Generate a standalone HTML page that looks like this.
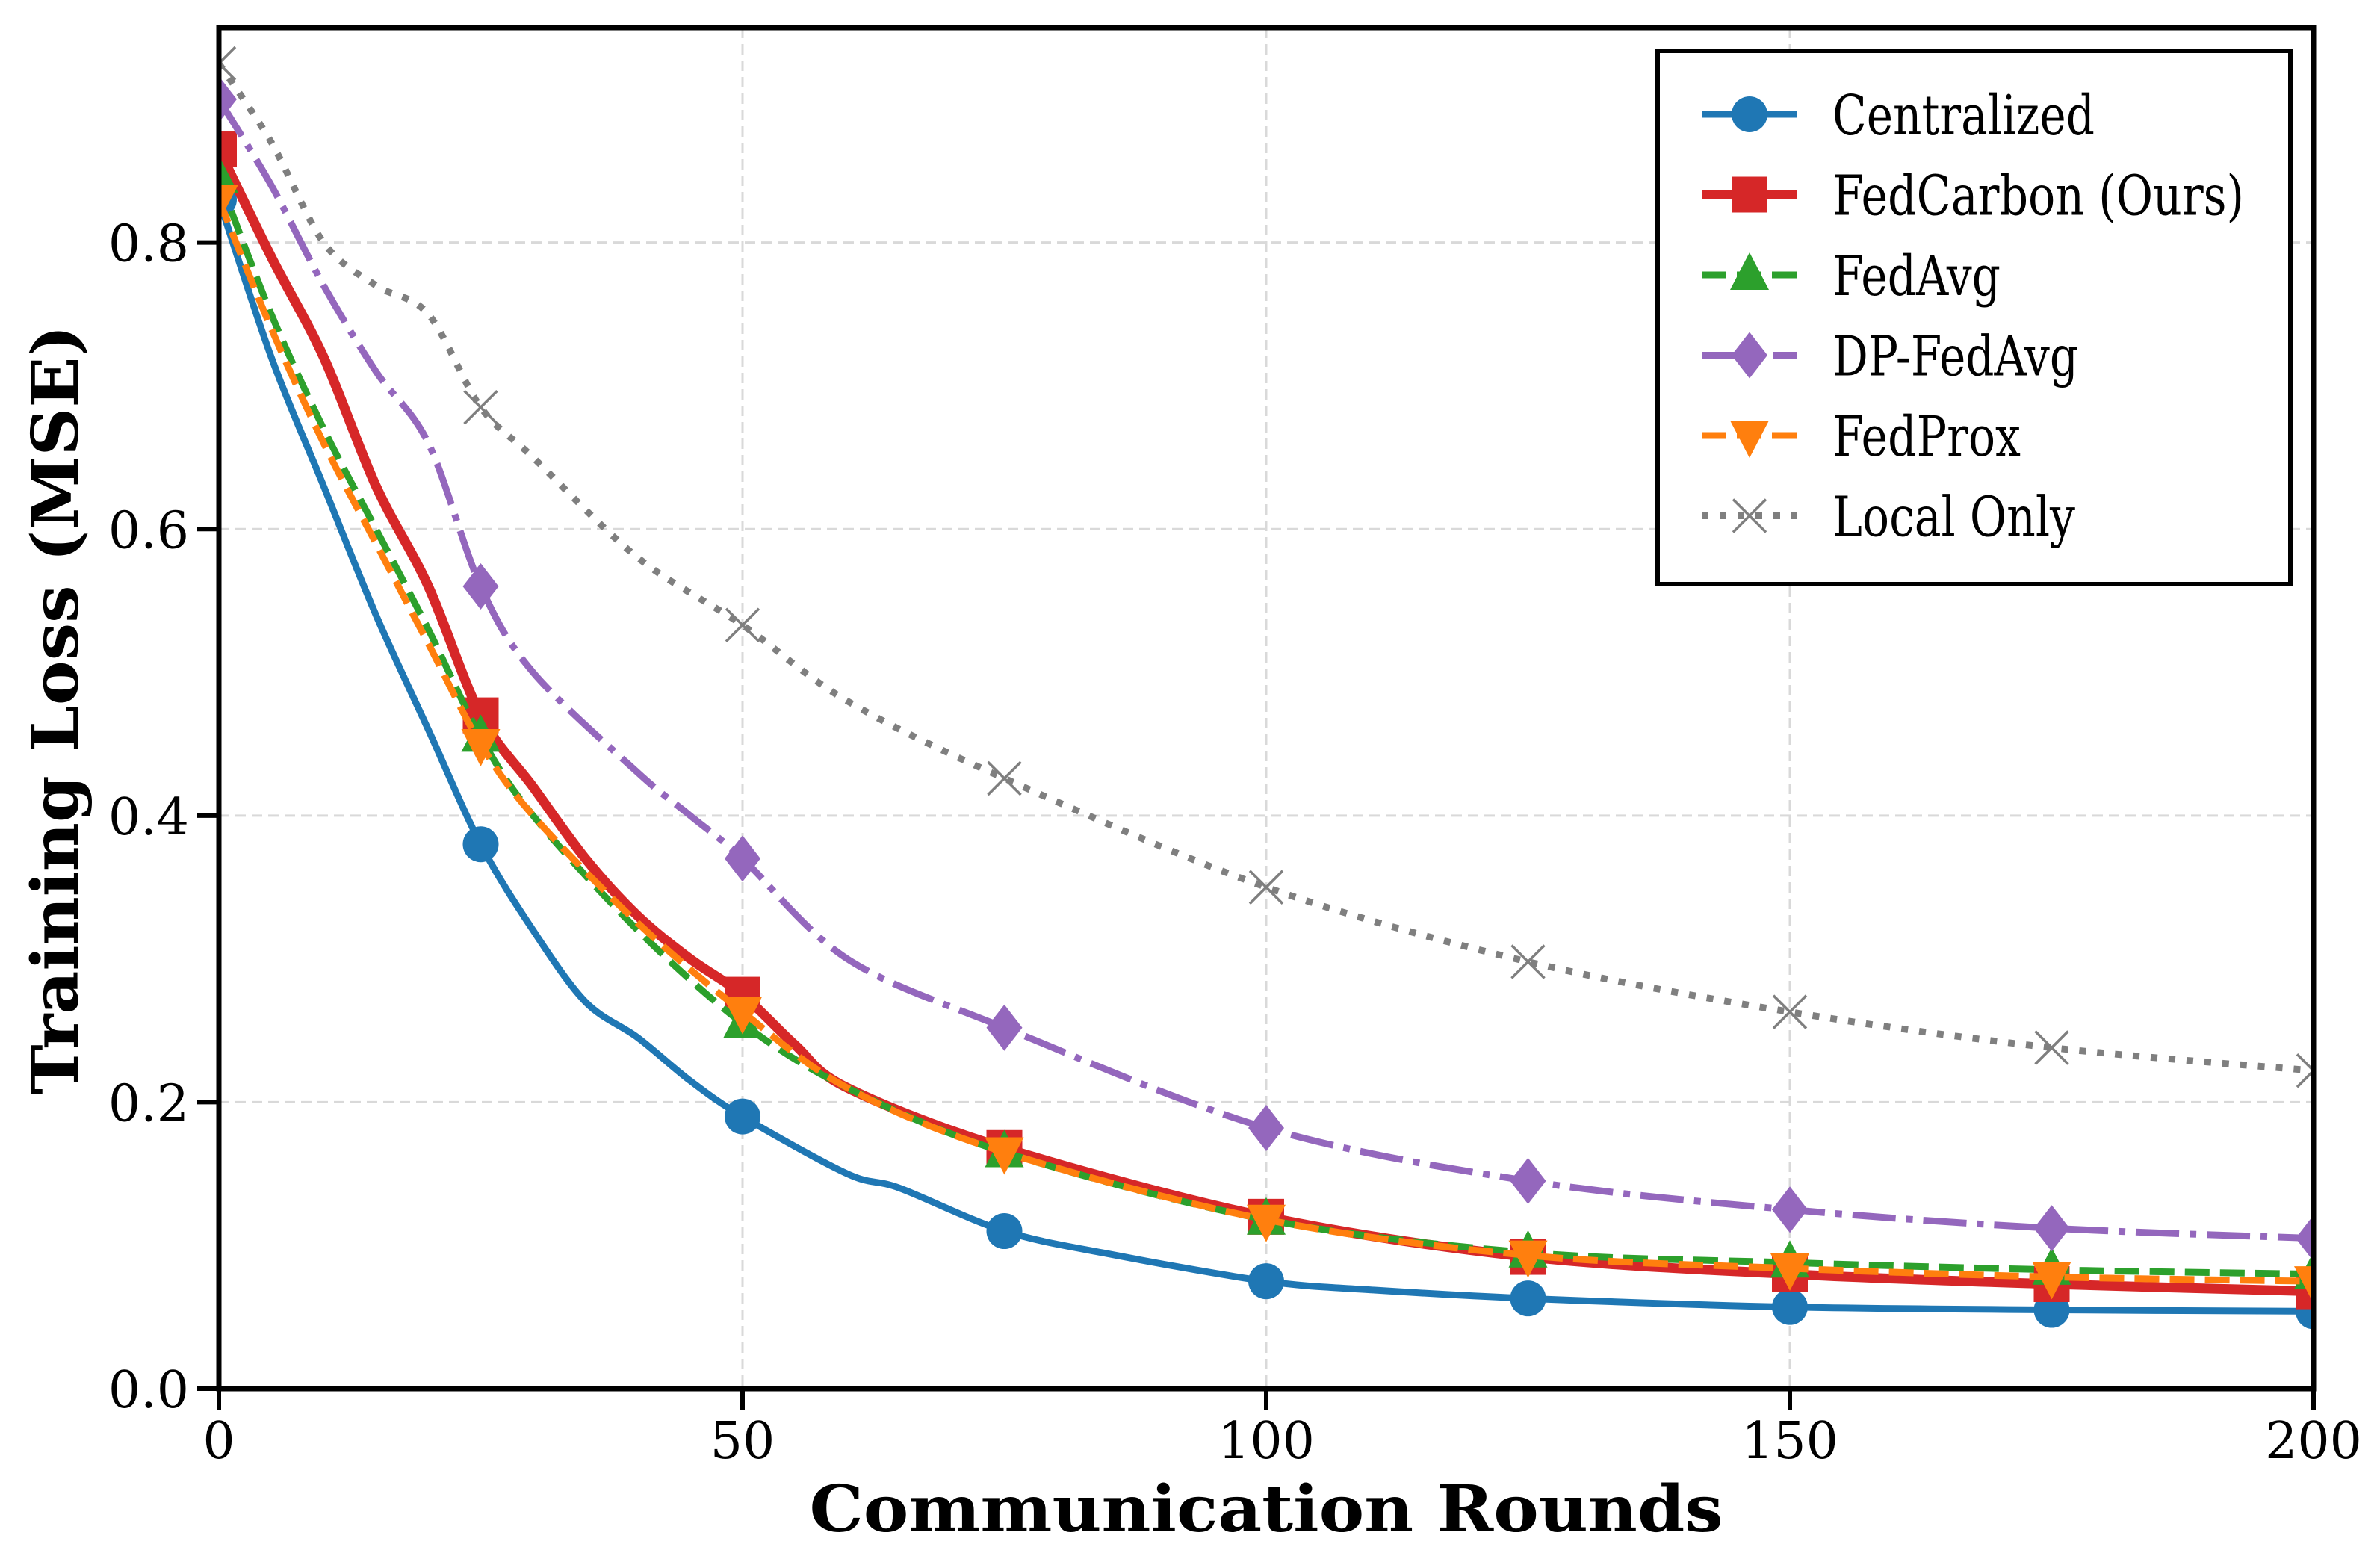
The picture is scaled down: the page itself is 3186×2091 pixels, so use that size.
<!DOCTYPE html>
<html><head><meta charset="utf-8"><style>
html,body{margin:0;padding:0;background:#fff}
svg{display:block}
text{font-family:"DejaVu Serif","Liberation Serif",serif;fill:#000}
</style></head><body>
<svg id="chart" width="3186" height="2091" viewBox="0 0 3186 2091" xmlns="http://www.w3.org/2000/svg">
<defs><clipPath id="plotclip"><rect x="293" y="37" width="2804" height="1822"/></clipPath></defs>
<g id="grid"></g>
<g id="series" clip-path="url(#plotclip)"></g>
<rect x="293" y="37" width="2804" height="1822" fill="none" stroke="#000" stroke-width="7"/>
<g id="ticks"></g>
<text x="1695" y="2050" font-size="86" font-weight="bold" text-anchor="middle" textLength="1223" lengthAdjust="spacingAndGlyphs">Communication Rounds</text>
<text transform="translate(104,950) rotate(-90)" x="0" y="0" font-size="86" font-weight="bold" text-anchor="middle" textLength="1030" lengthAdjust="spacingAndGlyphs">Training Loss (MSE)</text>
<g id="legend">
<rect x="2219" y="68" width="847" height="714" fill="#fff" stroke="#000" stroke-width="6"/>
</g>
</svg>
<script>
const xTicks=[0,50,100,150,200];
const yTicks=[0,0.2,0.4,0.6,0.8];
const yTickLabels=["0.0","0.2","0.4","0.6","0.8"];
const centralizedX=[0,5,10,15,20,25,30,35,40,45,50,60,65,75,85,100,110,125,150,175,200];
const centralizedY=[0.83,0.72,0.63,0.54,0.46,0.38,0.32,0.27,0.245,0.215,0.19,0.15,0.14,0.11,0.094,0.075,0.069,0.063,0.057,0.055,0.054];
const fedcarbonX=[0,5,10,15,20,25,30,35,40,45,50,55,60,75,100,125,150,175,200];
const fedcarbonY=[0.865,0.79,0.72,0.63,0.56,0.47,0.42,0.37,0.33,0.30,0.275,0.24,0.21,0.168,0.12,0.092,0.08,0.073,0.068];
const fedavgX=[0,5,10,15,20,25,30,40,50,60,75,100,125,150,175,200];
const fedavgY=[0.845,0.75,0.67,0.6,0.53,0.455,0.40,0.32,0.255,0.21,0.165,0.118,0.095,0.088,0.083,0.08];
const dpX=[0,5,10,15,20,25,30,40,45,50,60,75,100,125,150,175,200];
const dpY=[0.90,0.84,0.77,0.71,0.66,0.56,0.50,0.43,0.40,0.37,0.30,0.252,0.182,0.145,0.125,0.112,0.105];
const fedproxX=[0,5,10,15,20,25,30,40,50,60,75,100,125,150,175,200];
const fedproxY=[0.83,0.74,0.66,0.59,0.52,0.45,0.40,0.325,0.263,0.21,0.165,0.118,0.093,0.084,0.078,0.075];
const localX=[0,5,10,15,20,25,30,40,50,60,75,100,125,150,175,200];
const localY=[0.925,0.87,0.80,0.77,0.75,0.685,0.65,0.58,0.533,0.48,0.426,0.35,0.298,0.263,0.238,0.222];
const markerX=[0,25,50,75,100,125,150,175,200];

const NS="http://www.w3.org/2000/svg";
const X0=293,X1=3097,Y0=1859,Y1=37,XMAX=200,YMAX=0.95;
function sx(v){return X0+(X1-X0)*v/XMAX;}
function sy(v){return Y0-(Y0-Y1)*v/YMAX;}
function mk(tag,attrs,parent){const e=document.createElementNS(NS,tag);for(const k in attrs)e.setAttribute(k,attrs[k]);parent.appendChild(e);return e;}
function interp(xs,ys,x){for(let i=0;i<xs.length-1;i++){if(x>=xs[i]&&x<=xs[i+1]){const t=(x-xs[i])/(xs[i+1]-xs[i]);return ys[i]+t*(ys[i+1]-ys[i]);}}return ys[ys.length-1];}
function smoothPath(P){
  let d='M'+P[0][0].toFixed(1)+','+P[0][1].toFixed(1);
  for(let i=0;i<P.length-1;i++){
    const p0=P[Math.max(0,i-1)],p1=P[i],p2=P[i+1],p3=P[Math.min(P.length-1,i+2)];
    const k=0.16;
    const c1=[p1[0]+(p2[0]-p0[0])*k,p1[1]+(p2[1]-p0[1])*k];
    const c2=[p2[0]-(p3[0]-p1[0])*k,p2[1]-(p3[1]-p1[1])*k];
    d+='C'+c1[0].toFixed(1)+','+c1[1].toFixed(1)+' '+c2[0].toFixed(1)+','+c2[1].toFixed(1)+' '+p2[0].toFixed(1)+','+p2[1].toFixed(1);
  }
  return d;
}

const grid=document.getElementById('grid'),ticks=document.getElementById('ticks');
xTicks.forEach(v=>{
  const g=mk('line',{x1:sx(v),x2:sx(v),y1:Y1,y2:Y0,stroke:'#d9d9d9','stroke-width':3,'stroke-dasharray':'14,8'},grid);
  
  
  const t=mk('line',{x1:sx(v),x2:sx(v),y1:Y0,y2:Y0+29,stroke:'#000','stroke-width':6},ticks);
  
  
  const l=mk('text',{x:sx(v),y:Y0+93,'font-size':68,'text-anchor':'middle'},ticks);
  l.textContent=String(v);
  
  
});
yTicks.forEach((v,i)=>{
  const g=mk('line',{x1:X0,x2:X1,y1:sy(v),y2:sy(v),stroke:'#d9d9d9','stroke-width':3,'stroke-dasharray':'14,8'},grid);
  
  
  const t=mk('line',{x1:X0-29,x2:X0,y1:sy(v),y2:sy(v),stroke:'#000','stroke-width':6},ticks);
  
  
  const l=mk('text',{x:X0-40,y:sy(v)+25,'font-size':68,'text-anchor':'end'},ticks);
  l.textContent=yTickLabels[i];
  
  
});

const S=[
 {name:'Centralized',id:'centralized',xs:centralizedX,ys:centralizedY,color:'#1f77b4',w:9,dash:'',m:'circle',tl:351},
 {name:'FedCarbon (Ours)',id:'fedcarbon',xs:fedcarbonX,ys:fedcarbonY,color:'#d62728',w:13,dash:'',m:'square',tl:551},
 {name:'FedAvg',id:'fedavg',xs:fedavgX,ys:fedavgY,color:'#2ca02c',w:9,dash:'33,14',m:'tri',tl:225},
 {name:'DP-FedAvg',id:'dp-fedavg',xs:dpX,ys:dpY,color:'#9467bd',w:9,dash:'58,14,9,14',m:'diamond',tl:329},
 {name:'FedProx',id:'fedprox',xs:fedproxX,ys:fedproxY,color:'#ff7f0e',w:9,dash:'33,14',m:'tridown',tl:252},
 {name:'Local Only',id:'local-only',xs:localX,ys:localY,color:'#7f7f7f',w:9,dash:'9,15',m:'x',tl:325}
];
function marker(type,cx,cy,color,parent,scale){
  const s=scale||1;let e;
  if(type==='circle')e=mk('circle',{cx,cy,r:24*s,fill:color},parent);
  else if(type==='square')e=mk('rect',{x:cx-24*s,y:cy-24*s,width:48*s,height:48*s,fill:color},parent);
  else if(type==='tri')e=mk('polygon',{points:`${cx},${cy-30*s} ${cx+26*s},${cy+20*s} ${cx-26*s},${cy+20*s}`,fill:color},parent);
  else if(type==='tridown')e=mk('polygon',{points:`${cx},${cy+30*s} ${cx+26*s},${cy-20*s} ${cx-26*s},${cy-20*s}`,fill:color},parent);
  else if(type==='diamond')e=mk('polygon',{points:`${cx},${cy-31*s} ${cx+24*s},${cy} ${cx},${cy+31*s} ${cx-24*s},${cy}`,fill:color},parent);
  else e=mk('path',{d:`M${cx-22*s},${cy-22*s}L${cx+22*s},${cy+22*s}M${cx+22*s},${cy-22*s}L${cx-22*s},${cy+22*s}`,stroke:color,'stroke-width':3.5,fill:'none'},parent);
  return e;
}
const layer=document.getElementById('series');
S.forEach(s=>{
  const g=mk('g',{},layer);
  
  
  const pts=s.xs.map((x,i)=>[sx(x),sy(s.ys[i])]);
  const p=mk('path',{d:smoothPath(pts),fill:'none',stroke:s.color,'stroke-width':s.w,'stroke-linejoin':'round','stroke-dasharray':s.dash||'none'},g);
  
  
  markerX.forEach(x=>{
    const m=marker(s.m,sx(x),sy(interp(s.xs,s.ys,x)),s.color,g);
    
    
  });
});
const leg=document.getElementById('legend');
S.forEach((s,i)=>{
  const y=153+i*107.5;
  const g=mk('g',{},leg);
  
  
  mk('line',{x1:2278,x2:2406,y1:y,y2:y,stroke:s.color,'stroke-width':s.w,'stroke-dasharray':s.dash||'none'},g);
  marker(s.m,2342,y,s.color,g,1.0);
  const t=mk('text',{x:2453,y:y+27,'font-size':74,textLength:s.tl,lengthAdjust:'spacingAndGlyphs'},g);
  t.textContent=s.name;
});
</script>
</body></html>
